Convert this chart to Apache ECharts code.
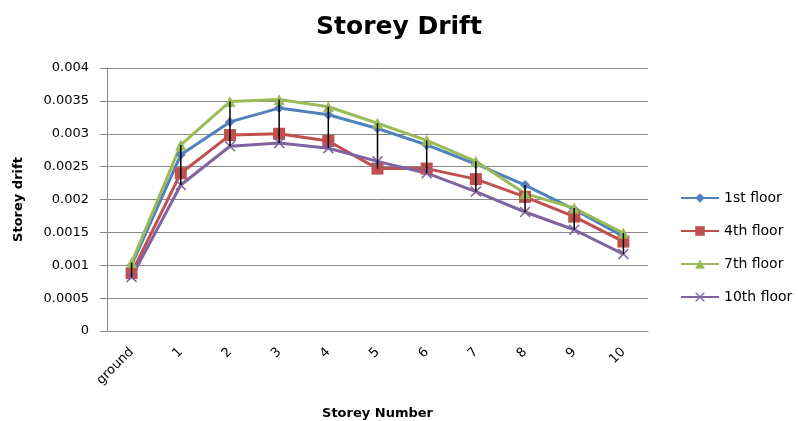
<!DOCTYPE html>
<html>
<head>
<meta charset="utf-8">
<script src="https://cdn.jsdelivr.net/npm/echarts@6/dist/echarts.min.js"></script>
<style>
  html, body { margin: 0; padding: 0; background: #fff; }
  #chart { width: 798px; height: 421px; }
</style>
</head>
<body>
<div id="chart"></div>
<script>
// Storey labels along the x axis
const storeys = ['ground', '1', '2', '3', '4', '5', '6', '7', '8', '9', '10'];

// Drift per storey for each loaded floor
const floor1  = [0.00100, 0.00268, 0.00318, 0.00339, 0.00329, 0.00308, 0.00283, 0.00254, 0.00222, 0.00185, 0.00144];
const floor4  = [0.00088, 0.00240, 0.00298, 0.00300, 0.00289, 0.00247, 0.00247, 0.00231, 0.00204, 0.00174, 0.00136];
const floor7  = [0.00104, 0.00283, 0.00349, 0.00352, 0.00341, 0.00316, 0.00290, 0.00258, 0.00209, 0.00187, 0.00149];
const floor10 = [0.00082, 0.00222, 0.00281, 0.00286, 0.00278, 0.00258, 0.00240, 0.00212, 0.00181, 0.00154, 0.00117];

const yTicks = [0, 0.0005, 0.001, 0.0015, 0.002, 0.0025, 0.003, 0.0035, 0.004];

const seriesDefs = [
  { name: '1st floor',  data: floor1,  color: '#4F81BD', symbol: 'diamond',  size: 10 },
  { name: '4th floor',  data: floor4,  color: '#C0504D', symbol: 'rect',     size: 12 },
  { name: '7th floor',  data: floor7,  color: '#9BBB59', symbol: 'triangle', size: 11 },
  { name: '10th floor', data: floor10, color: '#8064A2',
    symbol: 'path://M0,1L1,0L5,4L9,0L10,1L6,5L10,9L9,10L5,6L1,10L0,9L4,5Z', size: 11 }
];

// high-low line range per storey, from the four series
const hiLow = storeys.map((_, i) => {
  const vals = seriesDefs.map(s => s.data[i]);
  return [i, Math.max(...vals), Math.min(...vals)];
});

const chart = echarts.init(document.getElementById('chart'), null, { renderer: 'canvas' });

const font = '"DejaVu Sans", "Liberation Sans", sans-serif';

chart.setOption({
  animation: false,
  backgroundColor: '#ffffff',
  title: {
    text: 'Storey Drift',
    left: 'center',
    top: 10,
    textStyle: { fontFamily: font, fontSize: 25, fontWeight: 'bold', color: '#000' }
  },
  legend: {
    orient: 'vertical',
    left: 675,
    top: 186,
    itemWidth: 38,
    itemHeight: 12,
    itemGap: 19,
    data: seriesDefs.map(s => s.name),
    textStyle: { fontFamily: font, fontSize: 14, color: '#000' }
  },
  grid: { left: 107, right: 150, top: 68, bottom: 90, outerBoundsMode: 'none', containLabel: false },
  xAxis: {
    type: 'category',
    data: storeys,
    boundaryGap: true,
    name: 'Storey Number',
    nameLocation: 'middle',
    nameGap: 76,
    nameTextStyle: { fontFamily: font, fontSize: 13, fontWeight: 'bold', color: '#000' },
    axisLine: { lineStyle: { color: '#868686', width: 1 } },
    axisTick: { show: false },
    axisLabel: { rotate: 45, fontFamily: font, fontSize: 13, color: '#000', margin: 19 }
  },
  yAxis: {
    type: 'value',
    min: 0,
    max: 0.004,
    interval: 0.0005,
    name: 'Storey drift',
    nameLocation: 'middle',
    nameGap: 82,
    nameRotate: 90,
    nameTextStyle: { fontFamily: font, fontSize: 13, fontWeight: 'bold', color: '#000' },
    axisLine: { show: true, lineStyle: { color: '#868686', width: 1 } },
    axisTick: { show: true, length: 7, lineStyle: { color: '#868686' } },
    axisLabel: {
      fontFamily: font, fontSize: 13, color: '#000', margin: 18,
      formatter: v => {
        const hit = yTicks.find(t => Math.abs(t - v) < 1e-9);
        return hit === undefined ? '' : String(hit);
      }
    },
    splitLine: { lineStyle: { color: '#868686', width: 1 } }
  },
  series: seriesDefs.map(s => ({
    name: s.name,
    type: 'line',
    data: s.data,
    symbol: s.symbol,
    symbolSize: s.size,
    showAllSymbol: true,
    itemStyle: { color: s.color },
    lineStyle: { color: s.color, width: 3 },
    z: 3
  })).concat([{
    name: 'high-low',
    type: 'custom',
    data: hiLow,
    z: 5,
    silent: true,
    renderItem: (params, api) => {
      const top = api.coord([api.value(0), api.value(1)]);
      const bottom = api.coord([api.value(0), api.value(2)]);
      return {
        type: 'line',
        shape: { x1: top[0], y1: top[1], x2: bottom[0], y2: bottom[1] },
        style: { stroke: '#000', lineWidth: 1.5 }
      };
    }
  }])
});
</script>
</body>
</html>
